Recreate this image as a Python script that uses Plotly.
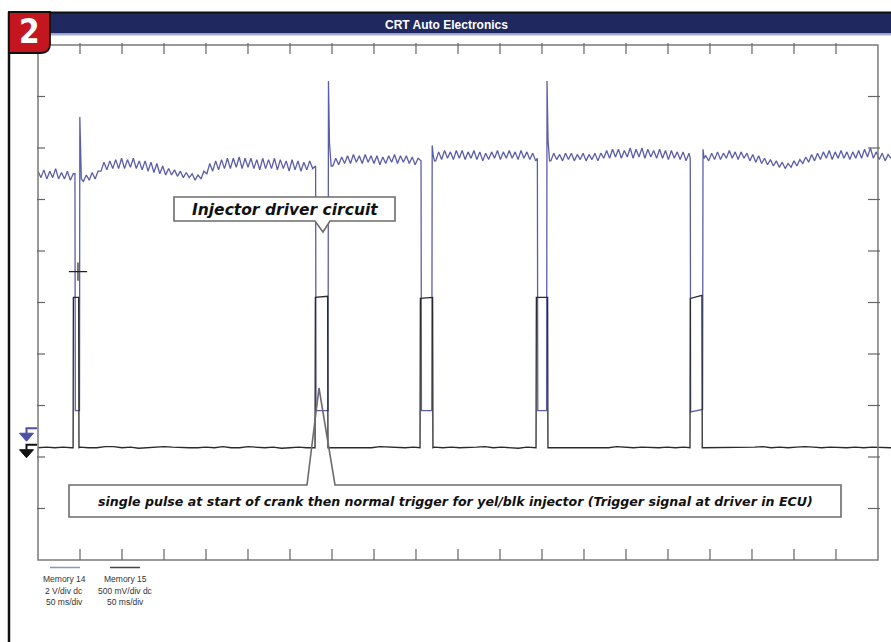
import plotly.graph_objects as go

# ---------------- scope screen settings ----------------
X_RANGE_MS = [0.0, 1015.5]          # 50 ms/div, screen continues a little past the frame
FRAME_END_MS = 1000                 # 20 divisions
BLUE_RANGE_V = [-5.0, 15.0]         # Memory 14 : 2 V/div, 10 div
BLACK_RANGE_V = [-1.09, 3.91]       # Memory 15 : 500 mV/div, 10 div
TIME_DIV_TICKS_MS = [50, 100, 150, 200, 250, 300, 350, 400, 450, 500,
                     550, 600, 650, 700, 750, 800, 850, 900, 950]
BLUE_DIV_TICKS_V = [-3, -1, 1, 3, 5, 7, 9, 11, 13]

TITLE = "CRT Auto Electronics"
BADGE = "2"
LABEL_TOP = "Injector driver circuit"
LABEL_BOTTOM = ("single pulse at start of crank then normal trigger for yel/blk injector "
                "(Trigger signal at driver in ECU)")
LEGEND_14 = ["Memory 14", "2 V/div dc", "50 ms/div"]
LEGEND_15 = ["Memory 15", "500 mV/div dc", "50 ms/div"]

# ---------------- Memory 14 (blue, injector driver) ----------------
blue_a_t = [0, 3.5, 7, 10.5, 14, 17.5, 21, 24.5, 28, 31.5, 35, 38.5, 42]
blue_a_v = [10.1, 9.85, 10.15, 9.8, 10.1, 9.85, 10.2, 9.8, 10.05, 9.8, 10.1, 9.75, 10.0]
blue_p1_t = [44.0, 44.4, 49.4, 49.8, 50.6, 51.6]
blue_p1_v = [10.0, 0.8, 0.8, 12.2, 11.0, 9.8]
blue_b_t = [54, 57.5, 61, 64.5, 68, 71.5, 75, 78.5, 82, 85.5, 89, 92.5, 96, 99.5, 103, 106.5,
            110, 113.5, 117, 120.5, 124, 127.5, 131, 134.5, 138, 141.5, 145, 148.5, 152, 155.5,
            159, 162.5, 166, 169.5, 173, 176.5, 180, 183.5, 187, 190.5, 194, 197.5, 201, 204.5,
            208, 211.5, 215, 218.5, 222, 225.5, 229, 232.5, 236, 239.5, 243, 246.5, 250, 253.5,
            257, 260.5, 264, 267.5, 271, 274.5, 278, 281.5, 285, 288.5, 292, 295.5, 299, 302.5,
            306, 309.5, 313, 316.5, 320, 323.5, 327]
blue_b_v = [9.7, 9.95, 9.75, 10.05, 9.8, 10.1,
            10.1, 10.45, 10.15, 10.5, 10.2, 10.55, 10.2, 10.6, 10.2, 10.55,
            10.25, 10.6, 10.2, 10.5, 10.15, 10.5, 10.1, 10.45, 10.05, 10.4,
            10.0, 10.3, 9.95, 10.2, 9.95, 10.15, 9.9, 10.1, 9.85, 10.05, 9.85, 10.0, 9.75, 9.95, 9.8, 10.1,
            10.0, 10.4, 10.1, 10.5, 10.15, 10.55, 10.2, 10.6, 10.2, 10.6,
            10.25, 10.65, 10.2, 10.6, 10.25, 10.6, 10.2, 10.55, 10.15, 10.6,
            10.2, 10.55, 10.2, 10.6, 10.15, 10.55, 10.2, 10.5, 10.1, 10.55,
            10.15, 10.5, 10.1, 10.45, 10.15, 10.5, 10.2]
blue_p2_t = [330.5, 331.0, 345.3, 345.8, 347.0, 349.0]
blue_p2_v = [10.3, 0.8, 0.8, 13.6, 11.2, 10.3]
blue_c_t = [351, 354.5, 358, 361.5, 365, 368.5, 372, 375.5, 379, 382.5, 386, 389.5, 393, 396.5,
            400, 403.5, 407, 410.5, 414, 417.5, 421, 424.5, 428, 431.5, 435, 438.5, 442, 445.5,
            449, 452.5]
blue_c_v = [10.3, 10.6, 10.35, 10.65, 10.4, 10.7, 10.4, 10.75, 10.45, 10.7,
            10.4, 10.75, 10.45, 10.7, 10.4, 10.7, 10.35, 10.65, 10.4, 10.7,
            10.45, 10.75, 10.4, 10.7, 10.45, 10.7, 10.4, 10.65, 10.35, 10.6]
blue_p3_t = [456.0, 456.5, 468.8, 469.3, 470.5, 472.0]
blue_p3_v = [10.5, 0.8, 0.8, 11.1, 10.7, 10.5]
blue_d_t = [473.5, 477, 480.5, 484, 487.5, 491, 494.5, 498, 501.5, 505, 508.5, 512, 515.5, 519,
            522.5, 526, 529.5, 533, 536.5, 540, 543.5, 547, 550.5, 554, 557.5, 561, 564.5, 568,
            571.5, 575, 578.5, 582, 585.5, 589, 592.5]
blue_d_v = [10.5, 10.85, 10.55, 10.9, 10.6, 10.85, 10.55, 10.9, 10.6, 10.9,
            10.55, 10.85, 10.6, 10.9, 10.55, 10.85, 10.5, 10.8, 10.55, 10.85,
            10.6, 10.9, 10.55, 10.85, 10.6, 10.9, 10.6, 10.85, 10.55, 10.9,
            10.6, 10.85, 10.55, 10.8, 10.5]
blue_p4_t = [594.5, 595.0, 605.5, 606.0, 607.2, 609.0]
blue_p4_v = [10.6, 0.8, 0.8, 13.6, 11.3, 10.5]
blue_e_t = [610.5, 614, 617.5, 621, 624.5, 628, 631.5, 635, 638.5, 642, 645.5, 649, 652.5, 656,
            659.5, 663, 666.5, 670, 673.5, 677, 680.5, 684, 687.5, 691, 694.5, 698, 701.5, 705,
            708.5, 712, 715.5, 719, 722.5, 726, 729.5, 733, 736.5, 740, 743.5, 747, 750.5, 754,
            757.5, 761, 764.5, 768, 771.5, 775]
blue_e_v = [10.5, 10.8, 10.55, 10.75, 10.5, 10.8, 10.55, 10.8, 10.5, 10.75,
            10.55, 10.8, 10.5, 10.75, 10.55, 10.8, 10.5, 10.8, 10.6, 10.9,
            10.6, 10.95, 10.65, 10.95, 10.6, 10.9, 10.65, 11.0, 10.6, 10.95,
            10.65, 11.0, 10.6, 10.95, 10.65, 10.9, 10.6, 10.95, 10.6, 10.9,
            10.55, 10.9, 10.6, 10.85, 10.55, 10.85, 10.5, 10.8]
blue_p5_t = [776.5, 777.0, 791.2, 791.7, 793.0]
blue_p5_v = [10.6, 0.75, 0.85, 10.95, 10.6]
blue_f_t = [795, 798.5, 802, 805.5, 809, 812.5, 816, 819.5, 823, 826.5, 830, 833.5, 837, 840.5,
            844, 847.5, 851, 854.5, 858, 861.5, 865, 868.5, 872, 875.5, 879, 882.5, 886, 889.5,
            893, 896.5, 900, 903.5, 907, 910.5, 914, 917.5, 921, 924.5, 928, 931.5, 935, 938.5,
            942, 945.5, 949, 952.5, 956, 959.5, 963, 966.5, 970, 973.5, 977, 980.5, 984, 987.5,
            991, 994.5, 998, 1001.5, 1005, 1008.5, 1012, 1015.5]
blue_f_v = [10.7, 10.5, 10.8, 10.55, 10.85, 10.55, 10.8, 10.6, 10.9, 10.6,
            10.85, 10.55, 10.85, 10.6, 10.8, 10.5, 10.75, 10.45, 10.7,
            10.4, 10.6, 10.35, 10.55, 10.3, 10.5, 10.25, 10.45, 10.2, 10.4,
            10.25, 10.5, 10.3, 10.55, 10.4, 10.65, 10.45,
            10.75, 10.5, 10.8, 10.55, 10.85, 10.6, 10.9, 10.55, 10.85, 10.6,
            10.9, 10.6, 10.85, 10.55, 10.85, 10.6, 10.9, 10.6, 10.95, 10.65,
            11.0, 10.6, 10.85, 10.55, 10.8, 10.5, 10.75, 10.6]

# ---------------- Memory 15 (black, ECU trigger signal) ----------------
black_a_t = [0, 10, 20, 30, 40, 41.5]
black_a_v = [0.0, 0.005, 0.0, 0.005, 0.0, 0.0]
black_p1_t = [41.8, 42.1, 48.4, 48.8]
black_p1_v = [0.0, 1.46, 1.46, 0.0]
black_b_t = [50, 60, 70, 80, 90, 100, 110, 120, 130, 140, 150, 160, 170, 180, 190, 200, 210,
             220, 230, 240, 250, 260, 270, 280, 290, 300, 310, 320, 329.5]
black_b_v = [0.005, 0.0, 0.0, 0.01, 0.01, 0.0, 0.005, -0.005, 0.0, 0.005, 0.01, 0.005, 0.0,
             0.0, 0.0, 0.005, 0.0, 0.01, 0.0, 0.0, 0.01, 0.005, 0.0, 0.005, -0.005, 0.0,
             0.005, 0.0, 0.0]
black_p2_t = [329.8, 330.2, 344.8, 345.2]
black_p2_v = [0.0, 1.46, 1.47, 0.0]
black_c_t = [347, 357, 367, 377, 387, 397, 407, 417, 427, 437, 447, 454.5]
black_c_v = [0.0, 0.005, 0.0, 0.0, 0.005, 0.0, 0.01, 0.005, 0.0, 0.0, 0.005, 0.0]
black_p3_t = [454.8, 455.2, 469.8, 470.2]
black_p3_v = [0.0, 1.45, 1.46, 0.0]
black_d_t = [472, 482, 492, 502, 512, 522, 532, 542, 552, 562, 572, 582, 592.5]
black_d_v = [0.005, 0.0, 0.005, 0.0, 0.0, 0.005, 0.01, 0.0, 0.005, 0.0, -0.005, 0.005, 0.0]
black_p4_t = [592.9, 593.3, 606.7, 607.1]
black_p4_v = [0.0, 1.46, 1.46, 0.0]
black_e_t = [609, 619, 629, 639, 649, 659, 669, 679, 689, 699, 709, 719, 729, 739, 749, 759,
             769, 775.8]
black_e_v = [0.0, 0.005, 0.0, 0.0, 0.005, 0.0, 0.005, 0.0, 0.01, 0.005, 0.0, 0.005, 0.0, 0.0,
             0.005, 0.0, 0.005, 0.0]
black_p5_t = [776.2, 776.6, 790.4, 790.8]
black_p5_v = [0.0, 1.45, 1.48, 0.0]
black_f_t = [793, 803, 813, 823, 833, 843, 853, 863, 873, 883, 893, 903, 913, 923, 933, 943,
             953, 963, 973, 983, 993, 1003, 1015.5]
black_f_v = [0.0, 0.005, 0.0, 0.005, 0.0, 0.0, 0.005, 0.01, 0.0, 0.005, 0.0, 0.005, 0.01, 0.005,
             0.0, 0.005, 0.0, 0.0, 0.005, 0.0, 0.005, 0.0, 0.0]

# cursor marker on the blue trace
cursor_t = [47.6]
cursor_v = [6.2]

blue_t = (blue_a_t + blue_p1_t + blue_b_t + blue_p2_t + blue_c_t + blue_p3_t + blue_d_t +
          blue_p4_t + blue_e_t + blue_p5_t + blue_f_t)
blue_v = (blue_a_v + blue_p1_v + blue_b_v + blue_p2_v + blue_c_v + blue_p3_v + blue_d_v +
          blue_p4_v + blue_e_v + blue_p5_v + blue_f_v)
black_t = (black_a_t + black_p1_t + black_b_t + black_p2_t + black_c_t + black_p3_t +
           black_d_t + black_p4_t + black_e_t + black_p5_t + black_f_t)
black_v = (black_a_v + black_p1_v + black_b_v + black_p2_v + black_c_v + black_p3_v +
           black_d_v + black_p4_v + black_e_v + black_p5_v + black_f_v)

# ---------------- layout geometry (pixels) ----------------
W, H = 891, 642
PL, PR, PT, PB = 38, 891, 45, 560
PW, PH = PR - PL, PB - PT


def pxx(x):
    return (x - PL) / PW


def pyy(y):
    return (PB - y) / PH


def tx(t):
    return (t - X_RANGE_MS[0]) / (X_RANGE_MS[1] - X_RANGE_MS[0])


def vy(v, rng):
    return (v - rng[0]) / (rng[1] - rng[0])


def path(points, close=True):
    s = "M " + " L ".join(f"{pxx(x):.5f},{pyy(y):.5f}" for x, y in points)
    return s + (" Z" if close else "")


BLUE = "#5a5ea8"
BLACK = "#2a2a2a"
FRAME = "#7a7a7a"

fig = go.Figure()
fig.add_trace(go.Scatter(x=blue_t, y=blue_v, mode="lines", yaxis="y",
                         line=dict(color=BLUE, width=1.3), hoverinfo="skip"))
fig.add_trace(go.Scatter(x=black_t, y=black_v, mode="lines", yaxis="y2",
                         line=dict(color=BLACK, width=1.3), hoverinfo="skip"))
fig.add_trace(go.Scatter(x=cursor_t, y=cursor_v, mode="markers", yaxis="y",
                         marker=dict(symbol="cross-thin", size=13,
                                     line=dict(width=1.2, color="#222")),
                         hoverinfo="skip"))

shapes = []
# plot frame
x_left, x_right = tx(0), tx(FRAME_END_MS)
shapes.append(dict(type="rect", xref="paper", yref="paper", x0=x_left, x1=x_right, y0=0, y1=1,
                   line=dict(color=FRAME, width=1.5), layer="above"))
for t in TIME_DIV_TICKS_MS:
    shapes.append(dict(type="line", xref="paper", yref="paper", x0=tx(t), x1=tx(t),
                       y0=0, y1=11 / PH, line=dict(color="#666", width=1.2)))
    shapes.append(dict(type="line", xref="paper", yref="paper", x0=tx(t), x1=tx(t),
                       y0=1 - 9 / PH, y1=1 + 2 / PH, line=dict(color="#666", width=1.2)))
for v in BLUE_DIV_TICKS_V:
    yy = vy(v, BLUE_RANGE_V)
    shapes.append(dict(type="line", xref="paper", yref="paper", x0=x_left - 1 / PW,
                       x1=x_left + 7 / PW, y0=yy, y1=yy, line=dict(color="#666", width=1.2)))
    shapes.append(dict(type="line", xref="paper", yref="paper", x0=x_right - 10 / PW,
                       x1=x_right + 2 / PW, y0=yy, y1=yy, line=dict(color="#666", width=1.2)))

# channel zero-reference markers on the left edge
for rng, col in ((BLUE_RANGE_V, "#4b50a3"), (BLACK_RANGE_V, "#111111")):
    zy = PB - vy(0, rng) * PH
    shapes.append(dict(type="path", xref="paper", yref="paper",
                       path=path([(37, zy - 3), (26.5, zy - 3), (26.5, zy + 2)], close=False),
                       line=dict(color=col, width=2)))
    shapes.append(dict(type="path", xref="paper", yref="paper",
                       path=path([(19.5, zy + 2), (33.5, zy + 2), (26.5, zy + 10)]),
                       fillcolor=col, line=dict(color=col, width=1)))

# title bar, outer border and badge
shapes.append(dict(type="rect", xref="paper", yref="paper", x0=pxx(40), x1=pxx(891),
                   y0=pyy(33.5), y1=pyy(12), fillcolor="#1f2960", line=dict(width=0)))
shapes.append(dict(type="rect", xref="paper", yref="paper", x0=pxx(40), x1=pxx(891),
                   y0=pyy(35.5), y1=pyy(33.5), fillcolor="#a3add6", line=dict(width=0)))
shapes.append(dict(type="line", xref="paper", yref="paper", x0=pxx(8), x1=pxx(891),
                   y0=pyy(12.5), y1=pyy(12.5), line=dict(color="#111", width=2)))
shapes.append(dict(type="line", xref="paper", yref="paper", x0=pxx(9), x1=pxx(9),
                   y0=pyy(12), y1=pyy(642), line=dict(color="#111", width=2.5)))
badge_path = (f"M {pxx(9)},{pyy(12)} L {pxx(50)},{pyy(12)} L {pxx(50)},{pyy(44)} "
              f"Q {pxx(50)},{pyy(53)} {pxx(41)},{pyy(53)} L {pxx(9)},{pyy(53)} Z")
shapes.append(dict(type="path", xref="paper", yref="paper", path=badge_path,
                   fillcolor="#c3161e", line=dict(color="#111", width=1.8)))

# annotation boxes
shapes.append(dict(type="path", xref="paper", yref="paper", layer="above",
                   path=path([(174, 197), (395, 197), (395, 221), (330, 221), (323, 232),
                              (315, 221), (174, 221)]),
                   fillcolor="white", line=dict(color="#6c6c6c", width=1.6)))
shapes.append(dict(type="path", xref="paper", yref="paper", layer="above",
                   path=path([(69, 485), (307, 485), (319, 388), (335, 485), (841, 485),
                              (841, 517), (69, 517)]),
                   fillcolor="rgba(0,0,0,0)", line=dict(color="#6c6c6c", width=1.6)))

# legend swatches
shapes.append(dict(type="line", xref="paper", yref="paper", x0=pxx(50), x1=pxx(80),
                   y0=pyy(567.5), y1=pyy(567.5), line=dict(color="#8d92c4", width=1.5)))
shapes.append(dict(type="line", xref="paper", yref="paper", x0=pxx(110), x1=pxx(140),
                   y0=pyy(567.5), y1=pyy(567.5), line=dict(color="#444", width=1.5)))


def label(text, x, y, size, color, family):
    return dict(text=text, x=pxx(x), y=pyy(y), xref="paper", yref="paper", showarrow=False,
                xanchor="center", yanchor="middle",
                font=dict(family=family, size=size, color=color))


annotations = [
    label(f"<b>{BADGE}</b>", 29.5, 31.5, 33, "white",
          "Liberation Sans Narrow, DejaVu Sans Condensed, sans-serif"),
    label(f"<b>{TITLE}</b>", 446, 25, 12, "white", "Liberation Sans, Arial, sans-serif"),
    label(f"<b><i>{LABEL_TOP}</i></b>", 285, 209.5, 15.5, "#111", "DejaVu Sans"),
    label(f"<b><i>{LABEL_BOTTOM}</i></b>", 455.5, 501, 12.6, "#111", "DejaVu Sans"),
]
for lines, cx in ((LEGEND_14, 64), (LEGEND_15, 125)):
    for i, s in enumerate(lines):
        annotations.append(label(s, cx, 579 + 11.5 * i, 8.5, "#333",
                                 "Liberation Sans, Arial, sans-serif"))

fig.update_layout(
    width=W, height=H,
    margin=dict(l=PL, r=W - PR, t=PT, b=H - PB, pad=0),
    paper_bgcolor="white", plot_bgcolor="white",
    showlegend=False,
    xaxis=dict(range=X_RANGE_MS, visible=False, fixedrange=True),
    yaxis=dict(range=BLUE_RANGE_V, visible=False, fixedrange=True),
    yaxis2=dict(range=BLACK_RANGE_V, visible=False, overlaying="y", fixedrange=True),
    shapes=shapes,
    annotations=annotations,
)

fig.write_html("out.html", config={"displayModeBar": False},
               post_script="document.body.style.margin='0';document.body.style.padding='0';")
